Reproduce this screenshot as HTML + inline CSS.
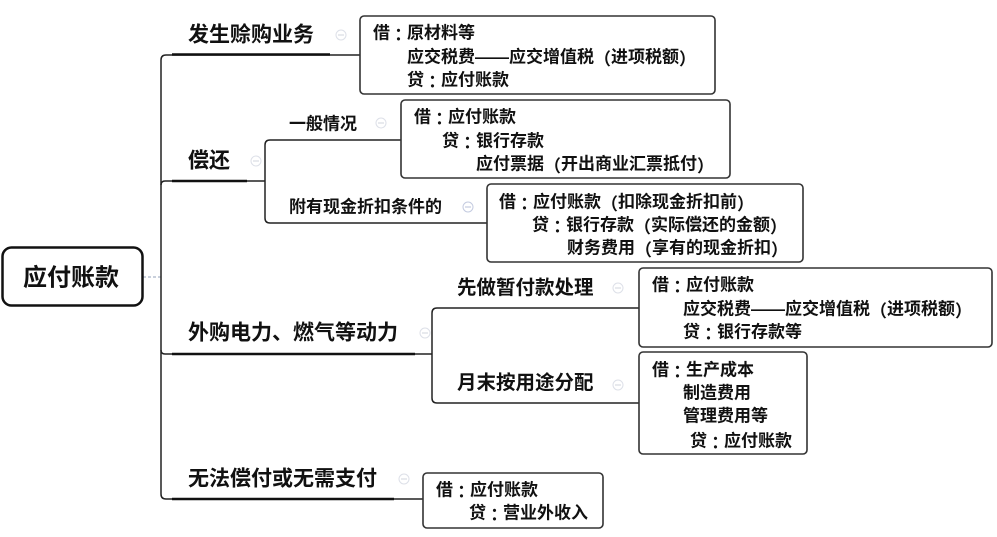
<!DOCTYPE html>
<html>
<head>
<meta charset="utf-8">
<style>
  html,body{margin:0;padding:0;background:#fff;}
  svg{display:block;}
  text{font-family:"Liberation Sans","Noto Sans CJK SC","WenQuanYi Zen Hei",sans-serif;fill:#111;dominant-baseline:central;}
  .l1{font-size:21px;font-weight:700;}
  .l2{font-size:17px;font-weight:700;}
  .l2b{font-size:19.5px;font-weight:700;}
  .bx{font-size:17px;font-weight:700;}
  .root{font-size:24px;font-weight:700;}
  .c{font-family:"Noto Sans CJK TC","Noto Sans CJK SC",sans-serif;}
  .ln{fill:none;stroke:#222;stroke-width:1.5;}
  .ul{fill:none;stroke:#111;stroke-width:2.6;}
  .box{fill:#fff;stroke:#333;stroke-width:1.6;}
  .cc{fill:#fff;stroke:#dde0e8;stroke-width:1;}
  .cm{stroke:#d0d4de;stroke-width:1;}
</style>
</head>
<body>
<svg width="997" height="537" viewBox="0 0 997 537" xmlns="http://www.w3.org/2000/svg">
  <!-- root dashed connector -->
  <line x1="143" y1="277" x2="161" y2="277" stroke="#a9b4c8" stroke-width="1.2" stroke-dasharray="3,2"/>

  <!-- main trunk -->
  <path class="ln" d="M161,277 V60 Q161,55 166,55 H360"/>
  <path class="ln" d="M161,185 Q161,181 165,181 H265"/>
  <path class="ln" d="M161,350 Q161,354 165,354 H432"/>
  <path class="ln" d="M161,277 V494 Q161,499 166,499 H423"/>
  <!-- underlines -->
  <line class="ul" x1="172" y1="54.5" x2="330" y2="54.5"/>
  <line class="ul" x1="172" y1="181" x2="247" y2="181"/>
  <line class="ul" x1="172" y1="354" x2="415" y2="354"/>
  <line class="ul" x1="172" y1="499" x2="394" y2="499"/>

  <!-- sub trunk 1 -->
  <path class="ln" d="M265,181 V145 Q265,140 270,140 H401"/>
  <path class="ln" d="M265,181 V218 Q265,223 270,223 H487"/>
  <!-- sub trunk 2 -->
  <path class="ln" d="M432,354 V313 Q432,308 437,308 H639"/>
  <path class="ln" d="M432,354 V398 Q432,403 437,403 H639"/>

  <!-- collapse circles -->
  <g>
    <circle class="cc" cx="341" cy="35" r="5"/><line class="cm" x1="338" y1="35" x2="344" y2="35"/>
    <circle class="cc" cx="256" cy="161" r="5"/><line class="cm" x1="253" y1="161" x2="259" y2="161"/>
    <circle class="cc" cx="381" cy="123" r="5"/><line class="cm" x1="378" y1="123" x2="384" y2="123"/>
    <circle class="cc" cx="468" cy="207" r="5" style="stroke:#c4cbe0"/><line class="cm" x1="465" y1="207" x2="471" y2="207" style="stroke:#b8c0d8"/>
    <circle class="cc" cx="425" cy="333" r="5"/><line class="cm" x1="422" y1="333" x2="428" y2="333"/>
    <circle class="cc" cx="618" cy="288" r="5"/><line class="cm" x1="615" y1="288" x2="621" y2="288"/>
    <circle class="cc" cx="618" cy="385" r="5"/><line class="cm" x1="615" y1="385" x2="621" y2="385"/>
    <circle class="cc" cx="404" cy="479" r="5"/><line class="cm" x1="401" y1="479" x2="407" y2="479"/>
  </g>

  <!-- root -->
  <rect x="2.5" y="247.5" width="140" height="58" rx="9" ry="9" fill="#fff" stroke="#111" stroke-width="2.5"/>
  <text class="root" x="23" y="278">应付账款</text>

  <!-- level 1 labels -->
  <text class="l1" x="188" y="35">发生赊购业务</text>
  <text class="l1" x="188" y="161">偿还</text>
  <text class="l1" x="188" y="333">外购电力、燃气等动力</text>
  <text class="l1" x="188" y="479">无法偿付或无需支付</text>

  <!-- level 2 labels -->
  <text class="l2" x="289" y="124">一般情况</text>
  <text class="l2" x="289" y="207">附有现金折扣条件的</text>
  <text class="l2b" x="457" y="288">先做暂付款处理</text>
  <text class="l2b" x="457" y="383">月末按用途分配</text>

  <!-- Box 1 -->
  <rect class="box" x="360" y="16" width="355" height="78" rx="4"/>
  <text class="bx" x="373" y="33">借<tspan class="c">：</tspan>原材料等</text>
  <text class="bx" x="407" y="57">应交税费——应交增值税<tspan class="c">（</tspan>进项税额<tspan class="c">）</tspan></text>
  <text class="bx" x="407" y="80">贷<tspan class="c">：</tspan>应付账款</text>

  <!-- Box 2 -->
  <rect class="box" x="401" y="100" width="329" height="78" rx="4"/>
  <text class="bx" x="414" y="117">借<tspan class="c">：</tspan>应付账款</text>
  <text class="bx" x="442" y="141">贷<tspan class="c">：</tspan>银行存款</text>
  <text class="bx" x="476" y="164">应付票据<tspan class="c">（</tspan>开出商业汇票抵付<tspan class="c">）</tspan></text>

  <!-- Box 3 -->
  <rect class="box" x="487" y="184" width="316" height="78" rx="4"/>
  <text class="bx" x="499" y="202">借<tspan class="c">：</tspan>应付账款<tspan class="c">（</tspan>扣除现金折扣前<tspan class="c">）</tspan></text>
  <text class="bx" x="532" y="225">贷<tspan class="c">：</tspan>银行存款<tspan class="c">（</tspan>实际偿还的金额<tspan class="c">）</tspan></text>
  <text class="bx" x="567" y="248">财务费用<tspan class="c">（</tspan>享有的现金折扣<tspan class="c">）</tspan></text>

  <!-- Box 4 -->
  <rect class="box" x="639" y="268" width="353" height="79" rx="4"/>
  <text class="bx" x="652" y="285">借<tspan class="c">：</tspan>应付账款</text>
  <text class="bx" x="683" y="309">应交税费——应交增值税<tspan class="c">（</tspan>进项税额<tspan class="c">）</tspan></text>
  <text class="bx" x="683" y="332">贷<tspan class="c">：</tspan>银行存款等</text>

  <!-- Box 5 -->
  <rect class="box" x="639" y="352" width="168" height="102" rx="4"/>
  <text class="bx" x="652" y="370">借<tspan class="c">：</tspan>生产成本</text>
  <text class="bx" x="683" y="393">制造费用</text>
  <text class="bx" x="683" y="416">管理费用等</text>
  <text class="bx" x="690" y="441">贷<tspan class="c">：</tspan>应付账款</text>

  <!-- Box 6 -->
  <rect class="box" x="423" y="473" width="180" height="55" rx="4"/>
  <text class="bx" x="436" y="490">借<tspan class="c">：</tspan>应付账款</text>
  <text class="bx" x="469" y="513">贷<tspan class="c">：</tspan>营业外收入</text>
</svg>
</body>
</html>
